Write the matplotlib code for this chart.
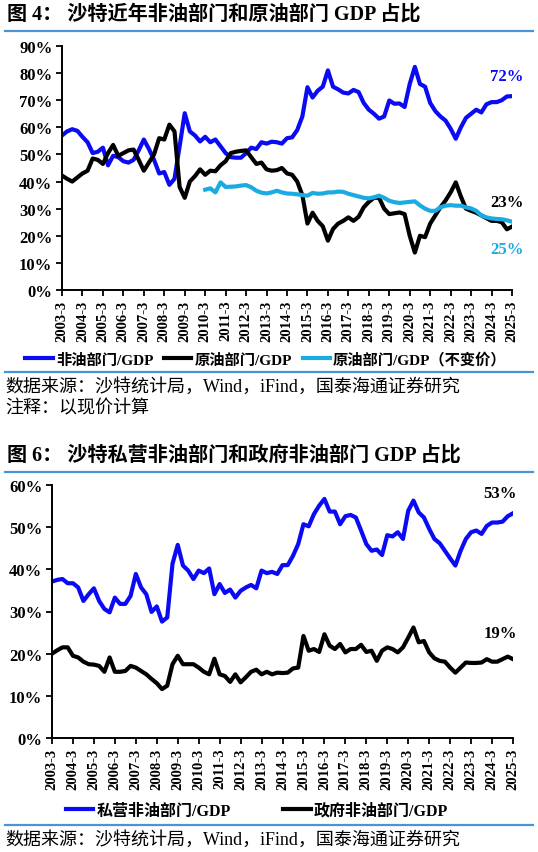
import matplotlib
matplotlib.use('Agg')
import matplotlib.pyplot as plt
from matplotlib.lines import Line2D

plt.rcParams['font.family'] = ['Liberation Serif', 'Noto Sans CJK SC']
plt.rcParams['axes.unicode_minus'] = False

# quarterly points, 2003-3 .. 2025-3
quarters = list(range(89))
years = [str(y) + '-3' for y in range(2003, 2026)]

# chart 1: share of GDP (%), current prices
non_oil = [57.0, 58.5, 59.3, 58.7, 56.5, 54.5, 50.5, 51.0, 52.5, 46.0,
           49.5, 49.0, 47.5, 47.0, 48.0, 51.5, 55.5, 52.0, 48.0, 43.0,
           43.5, 38.8, 41.0, 53.0, 65.2, 58.5, 57.0, 54.8, 56.5, 54.5,
           55.5, 53.0, 50.5, 49.0, 48.8, 48.8, 50.5, 52.5, 52.0, 54.5,
           54.0, 54.7, 54.5, 54.0, 56.0, 56.3, 59.0, 64.0, 74.8, 71.0,
           73.5, 75.0, 81.0, 75.0, 74.0, 72.8, 72.5, 73.8, 73.0, 69.0,
           66.5, 65.0, 63.2, 64.0, 69.9, 68.7, 68.8, 67.5, 76.0, 82.3,
           76.0, 75.0, 69.0, 66.0, 64.0, 62.5, 59.5, 55.8, 60.0, 63.5,
           65.0, 66.5, 65.5, 68.5, 69.3, 69.3, 70.0, 71.4, 71.5]
oil = [42.2, 41.0, 40.0, 41.5, 43.0, 44.0, 48.5, 48.0, 46.5, 50.5,
       53.5, 49.5, 50.5, 51.5, 51.8, 48.0, 44.0, 47.0, 50.0, 56.0,
       55.5, 61.0, 58.5, 38.0, 34.0, 40.0, 42.0, 44.5, 42.5, 44.0,
       43.8, 46.0, 47.5, 50.5, 51.0, 51.3, 51.5, 49.0, 46.5, 47.0,
       44.5, 44.0, 44.2, 45.0, 43.0, 42.5, 40.0, 35.0, 24.5, 28.5,
       25.5, 23.5, 18.2, 22.5, 24.5, 25.5, 26.8, 25.5, 27.0, 30.5,
       32.5, 34.0, 34.0, 30.0, 28.0, 28.3, 28.6, 28.0, 20.0, 13.8,
       20.0, 19.5, 24.5, 27.5, 30.5, 33.0, 36.0, 39.7, 34.5, 30.0,
       29.2, 28.5, 27.5, 26.5, 25.5, 25.5, 25.0, 22.4, 23.4]
# constant prices, from 2010-3
oil_const_start = 28
oil_const = [37.0, 37.5, 36.0, 39.7, 38.0, 38.1, 38.2, 38.5, 38.7, 37.9,
             36.6, 35.9, 35.6, 36.0, 36.6, 36.0, 35.6, 35.5, 35.3, 35.0,
             34.8, 35.8, 35.5, 35.6, 36.0, 36.0, 36.3, 36.2, 35.5, 35.0,
             34.5, 34.0, 33.8, 34.2, 34.8, 34.0, 32.9, 32.4, 32.1, 32.3,
             32.5, 32.7, 31.2, 30.0, 29.2, 29.2, 30.5, 31.1, 31.3, 31.1,
             31.1, 30.5, 30.1, 29.2, 27.5, 26.8, 26.4, 26.2, 26.1, 25.7,
             25.2]

# chart 2: private / government non-oil share of GDP (%)
private = [37.1, 37.5, 37.7, 36.7, 36.7, 35.7, 32.5, 34.1, 35.5, 32.5,
           30.6, 29.8, 33.3, 31.8, 31.8, 33.7, 38.9, 35.7, 34.1, 29.9,
           31.2, 27.6, 28.6, 41.3, 45.8, 40.9, 39.7, 37.7, 39.7, 39.1,
           40.2, 34.1, 36.5, 34.4, 35.2, 33.3, 34.9, 35.7, 36.3, 35.5,
           39.7, 39.1, 39.4, 38.9, 41.0, 41.0, 43.2, 46.0, 50.7, 50.2,
           53.1, 55.1, 56.7, 53.7, 53.7, 50.7, 52.6, 52.9, 52.3, 49.2,
           46.0, 44.4, 44.7, 43.4, 48.1, 47.8, 48.8, 47.2, 53.9, 56.3,
           53.5, 52.3, 49.6, 47.2, 46.2, 44.4, 42.6, 40.9, 44.4, 47.2,
           48.8, 49.2, 48.4, 50.3, 51.1, 51.1, 51.3, 52.6, 53.3]
government = [20.0, 20.8, 21.5, 21.5, 19.5, 19.1, 18.1, 17.5, 17.4, 17.1,
              15.7, 19.1, 15.7, 15.7, 15.9, 17.1, 16.7, 15.9, 15.1, 14.0,
              13.0, 11.6, 12.4, 17.5, 19.5, 17.5, 17.5, 17.5, 16.7, 15.7,
              15.1, 18.8, 15.1, 14.7, 13.3, 15.1, 13.2, 14.4, 15.7, 16.2,
              15.1, 15.7, 15.1, 15.5, 15.4, 15.5, 16.5, 16.7, 24.2, 20.7,
              21.1, 20.4, 24.6, 21.9, 21.1, 22.3, 20.3, 21.1, 21.1, 22.1,
              20.4, 20.7, 18.3, 20.7, 21.5, 21.1, 20.3, 21.5, 23.8, 26.2,
              22.7, 23.0, 20.3, 18.9, 18.3, 18.1, 16.7, 15.5, 16.7, 17.9,
              17.8, 17.8, 17.9, 18.7, 18.1, 18.1, 18.7, 19.3, 18.7]

W, H = 538, 853
BLUE = '#0A0AF5'
CYAN = '#1AABE3'
RULE = '#4A93D6'

fig = plt.figure(figsize=(W / 100, H / 100), dpi=100)


def box(x0, y_top, x1, y_bot):
    return [x0 / W, 1 - y_bot / H, (x1 - x0) / W, (y_bot - y_top) / H]


def fx(x):
    return x / W


def fy(y):
    return 1 - y / H


def rule(y):
    fig.add_artist(Line2D([fx(5), fx(533)], [fy(y), fy(y)], color=RULE, lw=1.6))


def style_axis(ax, ymax, ystep):
    for s in ['top', 'right']:
        ax.spines[s].set_visible(False)
    for s in ['left', 'bottom']:
        ax.spines[s].set_linewidth(1.4)
    ax.set_xlim(0, 88)
    ax.set_ylim(0, ymax)
    ax.set_yticks(range(0, ymax + 1, ystep))
    ax.set_yticklabels([str(v) + '%' for v in range(0, ymax + 1, ystep)])
    ax.set_xticks(range(0, 89, 4))
    ax.set_xticklabels(years, rotation=90, va='top')
    ax.tick_params(axis='both', direction='out', length=4, width=1.3)
    ax.tick_params(axis='y', labelsize=12, pad=3)
    ax.tick_params(axis='x', labelsize=10.5, pad=3)
    for lab in ax.get_xticklabels() + ax.get_yticklabels():
        lab.set_fontweight('bold')


# ---- chart 1 ----
fig.text(fx(7), fy(15), '图 4： 沙特近年非油部门和原油部门 GDP 占比',
         fontsize=14.5, fontweight='bold', va='center', ha='left')
rule(32)

ax1 = fig.add_axes(box(62, 47, 512, 291))
ax1.plot(quarters, non_oil, color=BLUE, lw=3, label='非油部门/GDP')
ax1.plot(quarters, oil, color='black', lw=3, label='原油部门/GDP')
ax1.plot(quarters[oil_const_start:], oil_const, color=CYAN, lw=3,
         label='原油部门/GDP（不变价）')
style_axis(ax1, 90, 10)
ax1.text(87, 79, '72%', color=BLUE, fontsize=12, fontweight='bold', ha='center', va='center')
ax1.text(87, 32.5, '23%', color='black', fontsize=12, fontweight='bold', ha='center', va='center')
ax1.text(87, 15.3, '25%', color=CYAN, fontsize=12, fontweight='bold', ha='center', va='center')

fig.legend(*ax1.get_legend_handles_labels(), loc='center', bbox_to_anchor=(fx(266), fy(360)),
           ncol=3, frameon=False, handlelength=1.8, handletextpad=0.2, columnspacing=0.7,
           prop={'size': 11, 'weight': 'bold'})
rule(373)
fig.text(fx(5), fy(387), '数据来源：沙特统计局，Wind，iFind，国泰海通证券研究',
         fontsize=13, va='center', ha='left')
fig.text(fx(5), fy(409), '注释：以现价计算', fontsize=13, va='center', ha='left')

# ---- chart 2 ----
fig.text(fx(7), fy(456), '图 6： 沙特私营非油部门和政府非油部门 GDP 占比',
         fontsize=14.5, fontweight='bold', va='center', ha='left')
rule(473)

ax2 = fig.add_axes(box(52, 486, 513, 739))
ax2.plot(quarters, private, color=BLUE, lw=3, label='私营非油部门/GDP')
ax2.plot(quarters, government, color='black', lw=3, label='政府非油部门/GDP')
style_axis(ax2, 60, 10)
ax2.text(85.5, 58.1, '53%', color='black', fontsize=12, fontweight='bold', ha='center', va='center')
ax2.text(85.5, 24.9, '19%', color='black', fontsize=12, fontweight='bold', ha='center', va='center')

fig.legend(*ax2.get_legend_handles_labels(), loc='center', bbox_to_anchor=(fx(257), fy(812)),
           ncol=2, frameon=False, handlelength=1.7, handletextpad=0.2, columnspacing=3.3,
           prop={'size': 11.5, 'weight': 'bold'})
rule(826)
fig.text(fx(5), fy(840), '数据来源：沙特统计局，Wind，iFind，国泰海通证券研究',
         fontsize=13, va='center', ha='left')

fig.savefig('out.png', dpi=100)
